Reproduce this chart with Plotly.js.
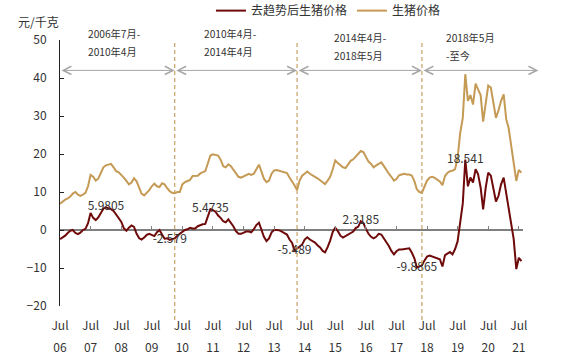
<!DOCTYPE html>
<html><head><meta charset="utf-8">
<script src="https://cdn.plot.ly/plotly-3.0.1.min.js"></script>
<style>html,body{margin:0;padding:0;background:#fff}#chart{width:568px;height:363px}</style>
</head><body><div id="chart"></div>
<script>
// Monthly series from Jul 2006
const startYear = 2006, startMonth = 7;
const porkPrice = [6.9,7.5,8.0,8.3,8.8,9.6,10.0,9.3,9.0,9.3,9.8,11.5,
14.5,14.0,13.0,13.5,15.0,16.5,17.0,17.3,17.4,16.5,15.5,15.2,
14.6,13.8,12.9,12.0,12.5,13.6,12.8,11.0,9.6,9.1,9.8,10.5,
11.5,12.2,11.5,11.3,12.3,12.0,11.0,10.2,9.8,9.7,10.0,10.0,
12.0,12.6,12.9,13.2,14.2,14.3,14.3,14.9,15.2,15.5,17.5,19.6,
19.9,19.8,19.6,18.5,16.8,16.5,17.3,16.8,15.8,14.8,14.0,13.8,
14.1,14.4,14.8,14.5,14.8,16.0,17.2,15.3,13.5,12.6,13.0,14.8,
15.7,15.8,15.6,15.5,15.3,15.0,13.8,12.8,11.8,10.5,13.0,14.3,
14.8,15.4,14.8,14.3,14.0,13.6,13.0,12.5,12.1,13.0,14.0,16.0,
18.3,17.6,17.0,16.5,16.3,17.4,18.2,18.6,19.3,19.8,20.8,20.5,
19.2,18.0,17.4,16.5,17.0,17.3,17.8,16.8,15.8,14.8,14.0,13.0,
13.4,14.4,14.6,14.8,14.6,14.6,14.3,12.8,10.7,10.0,9.8,11.5,
13.0,13.8,14.0,13.7,13.2,12.8,11.8,14.2,15.0,15.5,15.6,16.0,
19.0,25.5,29.5,41.0,34.0,35.5,33.0,38.5,37.0,35.5,28.5,33.5,
38.0,37.5,33.5,29.5,31.5,34.0,35.7,29.1,26.9,22.1,18.6,12.9,
15.8,15.1];
const detrendedPrice = [-2.4,-2.0,-1.5,-0.8,-0.2,0.0,-0.8,-1.1,-0.7,0.0,0.3,1.8,
4.5,3.2,2.6,3.3,4.6,5.6,5.9805,5.8,5.5,5.0,4.1,3.2,
2.2,0.5,-0.2,0.6,1.2,0.8,-1.0,-2.2,-2.5,-2.0,-1.3,-1.0,
-1.3,-1.6,-0.6,0.0,-1.2,-2.3,-2.2,-2.579,-2.4,-2.2,-1.5,-1.0,
-0.3,0.0,0.2,0.6,0.4,0.4,1.0,1.3,1.5,1.6,3.5,5.4735,
5.2,4.8,3.8,3.2,2.3,2.0,2.8,2.0,1.0,-0.3,-1.0,-1.0,
-0.7,-0.4,-0.4,-0.6,0.2,1.3,1.9,0.2,-1.8,-2.9,-2.2,-0.6,
0.0,0.0,-0.1,-0.4,-0.7,-1.2,-2.5,-3.4,-5.489,-5.0,-4.5,-3.8,
-2.5,-1.9,-2.5,-2.9,-3.3,-4.0,-4.6,-5.5,-5.9,-4.5,-2.8,-0.5,
0.6,-0.3,-1.5,-2.0,-1.6,-1.0,-0.6,-0.4,0.5,0.9,2.3185,1.8,
0.3,-1.0,-1.8,-2.2,-1.8,-1.0,-1.2,-2.2,-3.2,-4.2,-5.5,-6.4,
-5.6,-5.1,-5.1,-5.0,-4.8,-4.8,-6.0,-7.5,-9.8865,-9.6,-9.3,-8.0,
-7.0,-6.7,-7.0,-7.3,-7.5,-7.7,-9.6,-6.6,-6.2,-5.8,-6.4,-5.0,
-3.0,1.5,7.0,18.541,11.5,13.8,12.5,16.0,14.7,11.2,5.4,11.2,
15.1,14.3,10.7,7.5,9.0,12.0,13.8,9.8,6.3,1.9,-2.4,-10.3,
-7.3,-8.2];
const labelIdx = [18, 43, 59, 92, 118, 140, 159];
const tickYears = ['06','07','08','09','10','11','12','13','14','15','16','17','18','19','20','21'];
const periodBounds = ['2006-07-01','2010-04-01','2014-04-01','2018-05-01','2022-02-20'];
const periodText = [['2006年7月-','2010年4月'],['2010年4月-','2014年4月'],['2014年4月-','2018年5月'],['2018年5月','-至今']];
const xRange = ['2006-07-01','2021-08-20'];

const pad = n => (n<10?'0':'')+n;
const months = porkPrice.map((_,i)=>{const t=startMonth-1+i;return (startYear+Math.floor(t/12))+'-'+pad(t%12+1)+'-01';});
const julys = tickYears.map(y=>'20'+y+'-07-01');

const font = 'Noto Sans CJK SC, Noto Sans, sans-serif';
const txt = '#333333';
const gold = '#C49A55', red = '#6E0A0A';

const traces = [
 {x: months, y: porkPrice, type:'scatter', mode:'lines', name:'生猪价格', xaxis:'x', yaxis:'y',
  line:{color:gold, width:2}, legendrank:2},
 {x: months, y: detrendedPrice, type:'scatter', mode:'lines', name:'去趋势后生猪价格', xaxis:'x2', yaxis:'y',
  line:{color:red, width:2}, legendrank:1},
 {x: labelIdx.map(i=>months[i]), y: labelIdx.map(i=>detrendedPrice[i]), text: labelIdx.map(i=>String(detrendedPrice[i])),
  type:'scatter', mode:'text', textposition:'middle center', textfont:{family:font,size:12,color:txt},
  xaxis:'x3', yaxis:'y', showlegend:false, cliponaxis:false}
];

const baseX = {type:'date', range:xRange, tickvals:julys, showgrid:false, zeroline:false, fixedrange:true};
const shapes = periodBounds.slice(1,4).map(d=>({type:'line', xref:'x', yref:'paper', x0:d, x1:d, y0:-0.053, y1:0.989,
  line:{color:'#C9A063', width:1.2, dash:'4px,3px'}}));

const annotations = [];
for (let i=0;i<4;i++){
  annotations.push({xref:'x', yref:'y', axref:'x', ayref:'y', x:periodBounds[i+1], y:42, ax:periodBounds[i], ay:42,
    text:'', showarrow:true, arrowside:'end+start', arrowhead:5, startarrowhead:5, arrowsize:1.6, startarrowsize:1.6,
    arrowwidth:1, arrowcolor:'#A6A6A6', standoff:0, startstandoff:0});
}
const tx = [0.0562, 0.3067, 0.5875, 0.8294];
const ty = [[1.026,0.955],[1.026,0.955],[1.011,0.940],[1.011,0.940]];
periodText.forEach((lines,i)=>lines.forEach((t,j)=>annotations.push({xref:'paper', yref:'paper', x:tx[i], y:ty[i][j],
  xanchor:'left', yanchor:'middle', text:t, showarrow:false, font:{family:font, size:10.2, color:txt}})));
annotations.push({xref:'paper', yref:'paper', x:-0.0475, y:1.068, xanchor:'center', yanchor:'middle', text:'元/千克',
  showarrow:false, font:{family:font, size:12, color:txt}});

const layout = {
  width:568, height:363, margin:{l:60, r:45, t:40, b:57, autoexpand:false},
  paper_bgcolor:'#fff', plot_bgcolor:'#fff',
  font:{family:font, size:12, color:txt},
  showlegend:true,
  legend:{orientation:'h', x:0.326, xanchor:'left', y:1.165, yanchor:'top', font:{family:font,size:12,color:txt},
    bgcolor:'rgba(0,0,0,0)', traceorder:'normal', itemwidth:30},
  xaxis: Object.assign({}, baseX, {ticktext: tickYears.map(()=> 'Jul'), ticks:'', showline:false, ticklabelstandoff:11,
    tickfont:{family:font,size:12,color:txt}}),
  xaxis2: Object.assign({}, baseX, {overlaying:'x', anchor:'free', position:20/70, showticklabels:false, ticks:'inside',
    ticklen:4, tickcolor:'#808080', tickwidth:1, showline:false}),
  xaxis3: Object.assign({}, baseX, {overlaying:'x', anchor:'free', position:0, ticktext: tickYears, ticks:'',
    showline:false, ticklabelstandoff:33, tickfont:{family:font,size:12,color:txt}}),
  yaxis:{range:[-20,50], dtick:10, tick0:0, ticks:'inside', ticklen:4, tickcolor:'#222', showline:true, linecolor:'#222',
    linewidth:1, showgrid:false, zeroline:true, zerolinecolor:'#808080', zerolinewidth:1.5, ticklabelstandoff:10,
    tickfont:{family:font,size:12,color:txt}, fixedrange:true},
  shapes: shapes,
  annotations: annotations
};
Plotly.newPlot('chart', traces, layout, {displayModeBar:false, staticPlot:true});
</script></body></html>
